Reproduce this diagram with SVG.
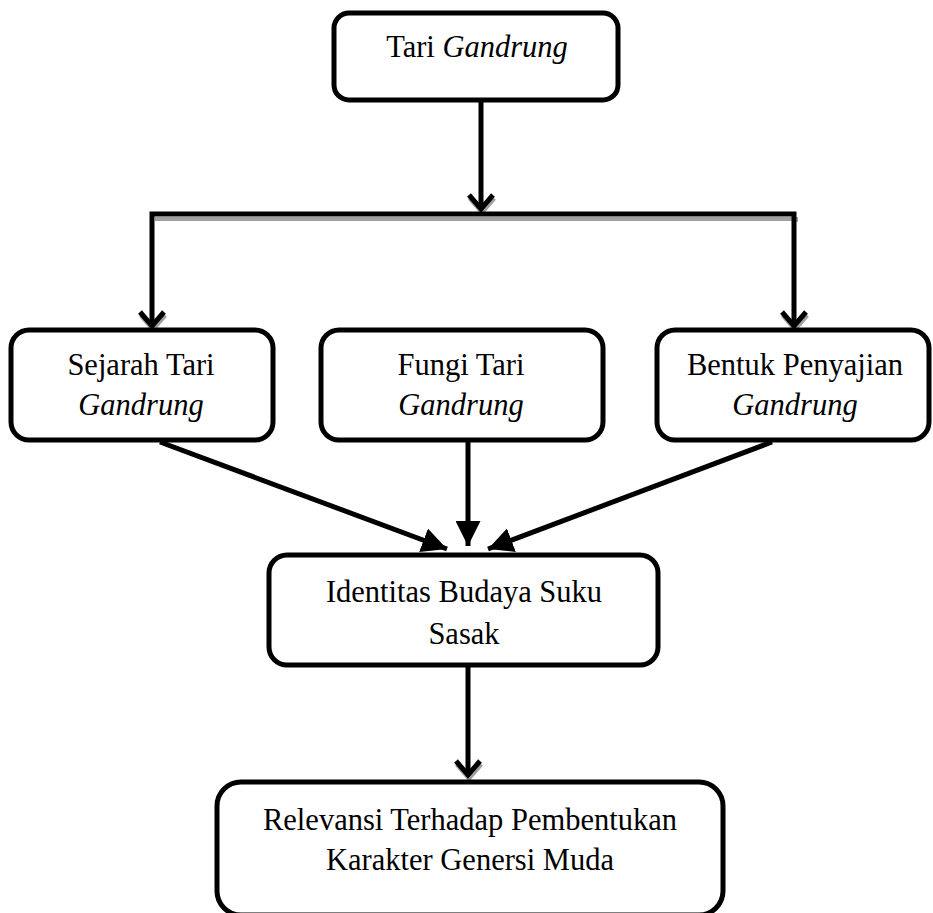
<svg xmlns="http://www.w3.org/2000/svg" width="933" height="913" viewBox="0 0 933 913">
<style>
.box{fill:#fff;stroke:#000;stroke-width:5}
.t{font-family:"Liberation Serif","Times New Roman",serif;font-size:30.5px;fill:#000;text-anchor:middle}
.i{font-style:italic}
.ln{fill:none;stroke:#000;stroke-width:5}
.sh{fill:none;stroke:#a0a0a0;stroke-width:4}
.chev{fill:none;stroke:#000;stroke-width:5;stroke-linejoin:miter}
.chevsh{fill:none;stroke:#a0a0a0;stroke-width:5}
</style>
<defs>
<marker id="tri" viewBox="0 0 10 10" refX="10" refY="5" markerWidth="5" markerHeight="5" orient="auto" markerUnits="strokeWidth">
<path d="M0,0 L10,5 L0,10 z" fill="#000"/>
</marker>
</defs>
<g id="connectors">
<line class="ln" x1="481" y1="100" x2="481" y2="210"/>
<polyline class="chevsh" points="470,198 482,212 494,198"/>
<polyline class="chev" points="469,195 481,209 493,195"/>
<polyline class="sh" points="155,219 796,219 796,222"/>
<polyline class="ln" points="152,327 152,214 794,214 794,327"/>
<polyline class="chevsh" points="141,315 153,329 165,315"/>
<polyline class="chev" points="140,312 152,326 164,312"/>
<polyline class="chevsh" points="783,315 795,329 807,315"/>
<polyline class="chev" points="782,312 794,326 806,312"/>
<line class="ln" x1="160" y1="442" x2="447" y2="549" marker-end="url(#tri)"/>
<line class="ln" x1="468" y1="442" x2="468" y2="546" marker-end="url(#tri)"/>
<line class="ln" x1="772" y1="442" x2="488" y2="549" marker-end="url(#tri)"/>
<line class="ln" x1="468" y1="665" x2="468" y2="776"/>
<polyline class="chevsh" points="457,764 469,778 481,764"/>
<polyline class="chev" points="456,761 468,775 480,761"/>
</g>
<g id="n1">
<rect class="box" x="334" y="13" width="284" height="87" rx="15"/>
<text class="t" x="477" y="57">Tari <tspan class="i">Gandrung</tspan></text>
</g>
<g id="n2">
<rect class="box" x="11" y="330" width="262" height="110" rx="18"/>
<text class="t" x="141" y="375">Sejarah Tari</text>
<text class="t i" x="141" y="415">Gandrung</text>
</g>
<g id="n3">
<rect class="box" x="321" y="330" width="282" height="110" rx="18"/>
<text class="t" x="461" y="375">Fungi Tari</text>
<text class="t i" x="461" y="415">Gandrung</text>
</g>
<g id="n4">
<rect class="box" x="657" y="330" width="272" height="110" rx="18"/>
<text class="t" x="795" y="375">Bentuk Penyajian</text>
<text class="t i" x="795" y="415">Gandrung</text>
</g>
<g id="n5">
<rect class="box" x="269" y="555" width="389" height="110" rx="18"/>
<text class="t" x="464" y="602">Identitas Budaya Suku</text>
<text class="t" x="464" y="644">Sasak</text>
</g>
<g id="n6">
<rect class="box" x="217" y="782" width="506" height="133" rx="24"/>
<text class="t" x="470" y="830">Relevansi Terhadap Pembentukan</text>
<text class="t" x="470" y="870">Karakter Genersi Muda</text>
</g>
</svg>
